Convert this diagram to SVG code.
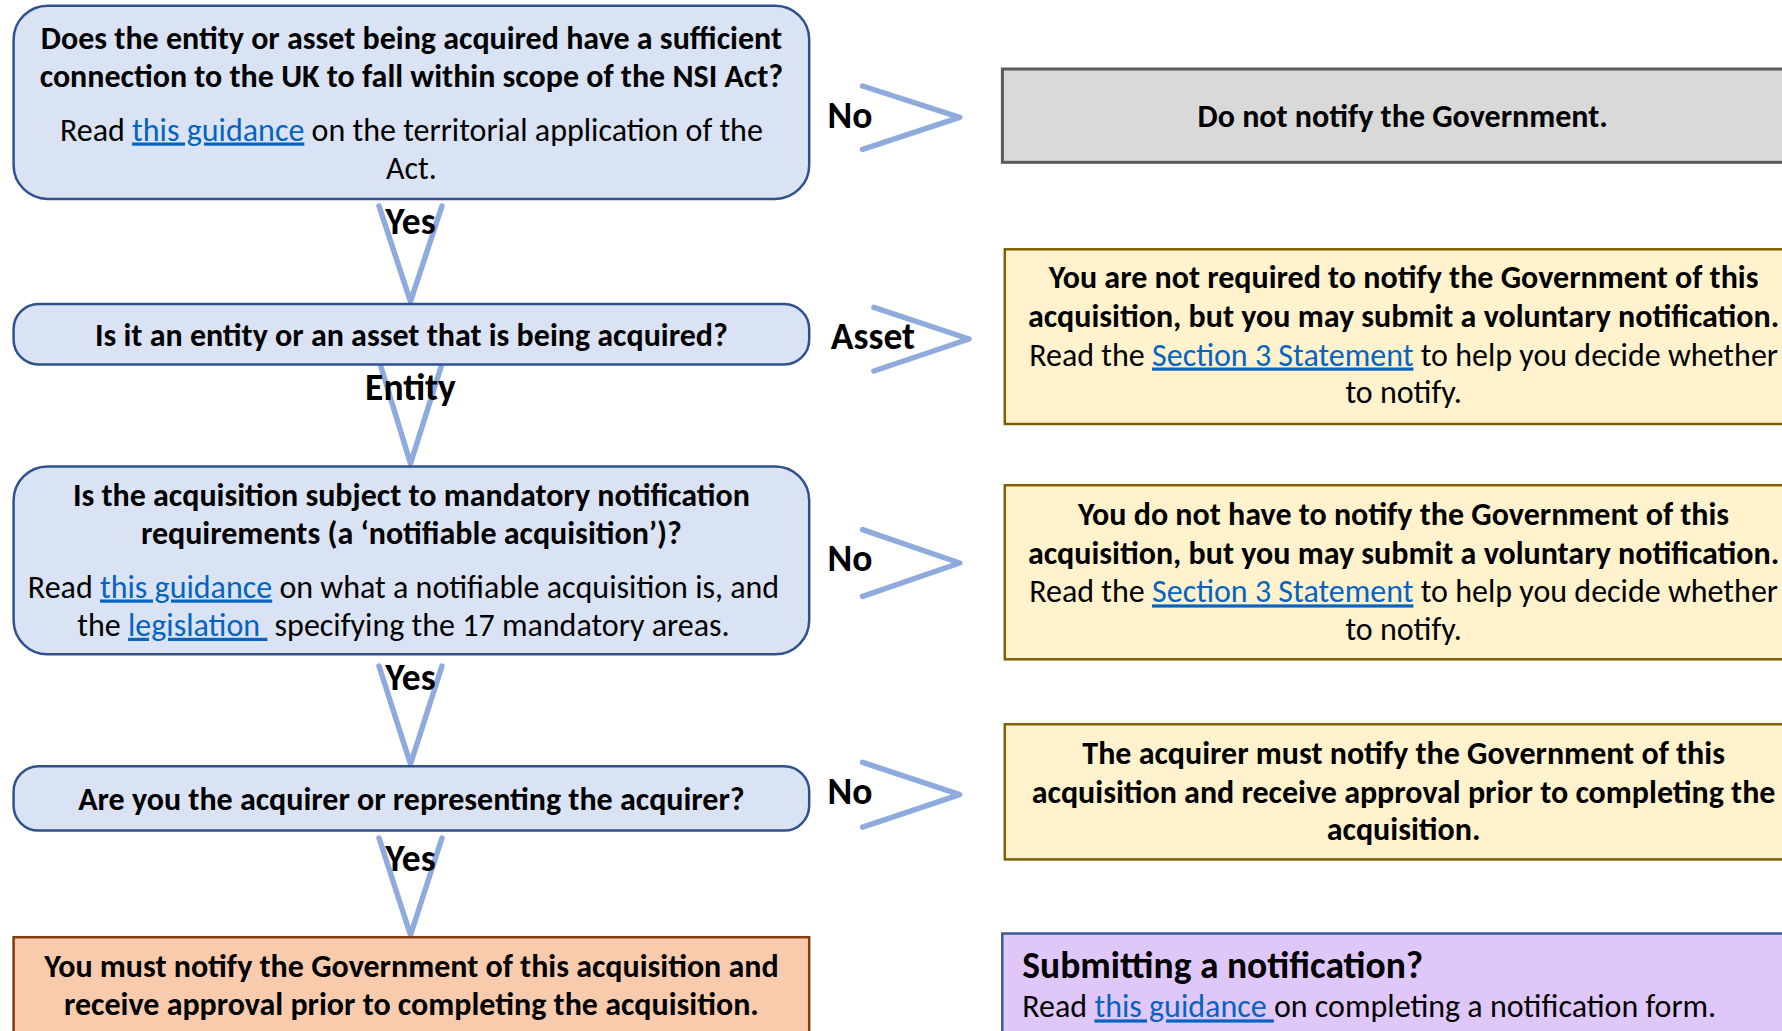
<svg xmlns="http://www.w3.org/2000/svg" width="1782" height="1031" viewBox="0 0 1782 1031">
<style>
text{font-family:Carlito,Lato,"Liberation Sans",sans-serif;fill:#000;}
.t{font-size:32px;}
.b{font-weight:bold;}
.c{text-anchor:middle;}
.lk{fill:#0563c1;text-decoration:underline;}
.lab{font-size:37.5px;font-weight:bold;text-anchor:middle;}
.q{fill:#dae3f3;stroke:#2f528f;stroke-width:2.5;}
.y{fill:#fff2cc;stroke:#7f6000;stroke-width:2.5;}
.arr{fill:none;stroke:#8faadc;stroke-width:5.5;stroke-linecap:round;stroke-linejoin:round;}
</style>
<rect width="1782" height="1031" fill="#ffffff"/>

<g id="connectors">
<polyline class="arr" points="379,206 410.5,301.5 442,206"/>
<polyline class="arr" points="381,367 410.5,463.5 441,367"/>
<polyline class="arr" points="379,666 410.5,764 442,666"/>
<polyline class="arr" points="379,838 410.5,935 442,838"/>
<polyline class="arr" points="862.6,86 959.7,117.3 862.6,149.3"/>
<polyline class="arr" points="873.9,307.3 969,339 873.9,371"/>
<polyline class="arr" points="862.6,529.7 959.7,563 862.6,596.4"/>
<polyline class="arr" points="862.6,762.3 959.7,794.6 862.6,827.2"/>
<text class="lab" x="410.5" y="234">Yes</text>
<text class="lab" x="410.5" y="400">Entity</text>
<text class="lab" x="410.5" y="690">Yes</text>
<text class="lab" x="410.5" y="870.5">Yes</text>
<text class="lab" x="850" y="127.5">No</text>
<text class="lab" x="873" y="349">Asset</text>
<text class="lab" x="850" y="571">No</text>
<text class="lab" x="850" y="803.5">No</text>
</g>

<g id="q1">
<rect class="q" x="13.6" y="5.7" width="795.6" height="193.2" rx="34"/>
<text class="t b c" x="411.4" y="48.5">Does the entity or asset being acquired have a sufficient</text>
<text class="t b c" x="411.4" y="86.5">connection to the UK to fall within scope of the NSI Act?</text>
<text class="t c" x="411.4" y="140.5">Read <tspan class="lk">this guidance</tspan> on the territorial application of the</text>
<text class="t c" x="411.4" y="178.5">Act.</text>
</g>

<g id="q2">
<rect class="q" x="13.6" y="304" width="795.6" height="60.5" rx="25"/>
<text class="t b c" x="411.4" y="345.5">Is it an entity or an asset that is being acquired?</text>
</g>

<g id="q3">
<rect class="q" x="13.6" y="466.4" width="795.6" height="187.9" rx="34"/>
<text class="t b c" x="411.4" y="506">Is the acquisition subject to mandatory notification</text>
<text class="t b c" x="411.4" y="543.5">requirements (a ‘notifiable acquisition’)?</text>
<text class="t c" x="403.5" y="597.5">Read <tspan class="lk">this guidance</tspan> on what a notifiable acquisition is, and</text>
<text class="t c" x="403.5" y="635.8">the <tspan class="lk">legislation&#160;</tspan> specifying the 17 mandatory areas.</text>
</g>

<g id="q4">
<rect class="q" x="13.6" y="766.2" width="795.6" height="64.4" rx="25"/>
<text class="t b c" x="411.4" y="810">Are you the acquirer or representing the acquirer?</text>
</g>

<g id="must">
<rect x="13.6" y="937.2" width="795.6" height="120" fill="#f8cbad" stroke="#843c0c" stroke-width="2.5"/>
<text class="t b c" x="411.4" y="976.8">You must notify the Government of this acquisition and</text>
<text class="t b c" x="411.4" y="1015">receive approval prior to completing the acquisition.</text>
</g>

<g id="donot">
<rect x="1002.4" y="69" width="820" height="93.3" fill="#d9d9d9" stroke="#595959" stroke-width="3"/>
<text class="t b c" x="1402.7" y="126.5">Do not notify the Government.</text>
</g>

<g id="asset">
<rect class="y" x="1004.8" y="249.3" width="820" height="174.7"/>
<text class="t b c" x="1403.6" y="287.8">You are not required to notify the Government of this</text>
<text class="t b c" x="1403.6" y="326.5">acquisition, but you may submit a voluntary notification.</text>
<text class="t c" x="1403.6" y="365.5">Read the <tspan class="lk">Section 3 Statement</tspan> to help you decide whether</text>
<text class="t c" x="1403.6" y="402.8">to notify.</text>
</g>

<g id="voluntary">
<rect class="y" x="1004.8" y="485.2" width="820" height="174.1"/>
<text class="t b c" x="1403.6" y="524.6">You do not have to notify the Government of this</text>
<text class="t b c" x="1403.6" y="563.5">acquisition, but you may submit a voluntary notification.</text>
<text class="t c" x="1403.6" y="602.4">Read the <tspan class="lk">Section 3 Statement</tspan> to help you decide whether</text>
<text class="t c" x="1403.6" y="640.2">to notify.</text>
</g>

<g id="acquirer">
<rect class="y" x="1004.8" y="724.2" width="820" height="135.2"/>
<text class="t b c" x="1403.6" y="763.5">The acquirer must notify the Government of this</text>
<text class="t b c" x="1403.6" y="802.5">acquisition and receive approval prior to completing the</text>
<text class="t b c" x="1403.6" y="840.3">acquisition.</text>
</g>

<g id="submitting">
<rect x="1002.3" y="933.5" width="820" height="130" fill="#e0c7fa" stroke="#3e5a95" stroke-width="2.5"/>
<text class="b" x="1022.3" y="977.5" font-size="37.5">Submitting a notification?</text>
<text class="t" x="1022.3" y="1017.4">Read <tspan class="lk">this guidance&#160;</tspan>on completing a notification form.</text>
</g>
</svg>
